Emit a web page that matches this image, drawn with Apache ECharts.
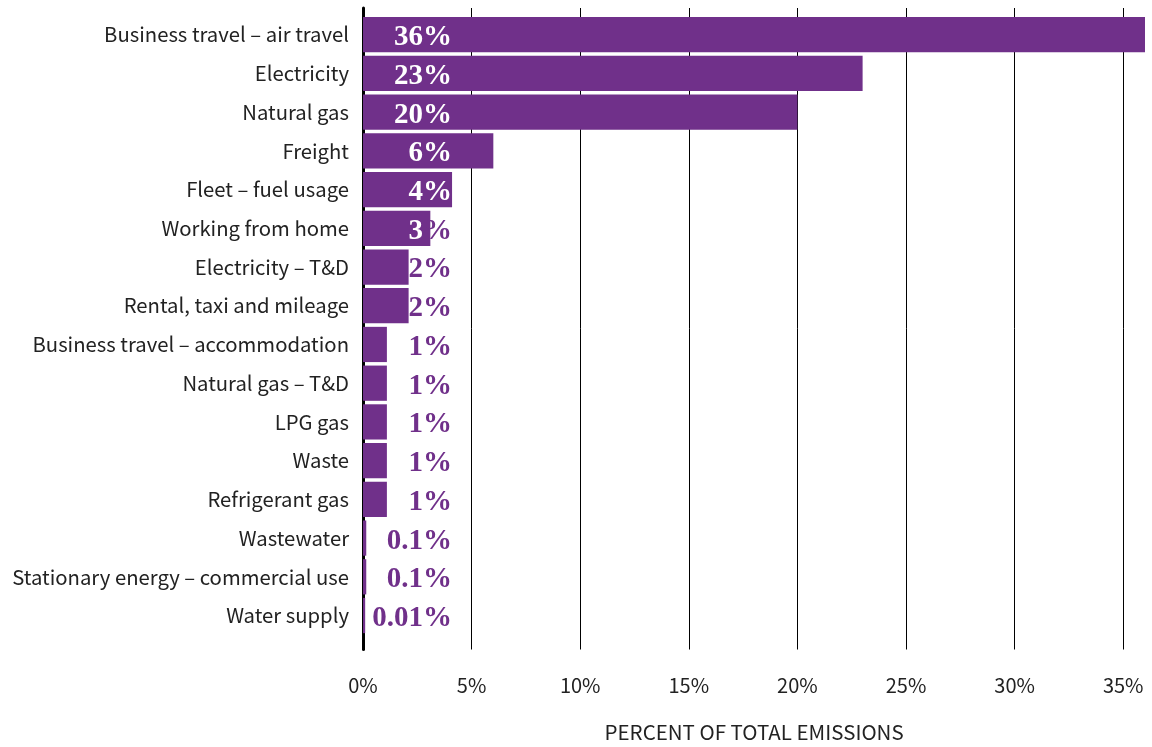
<!DOCTYPE html>
<html>
<head>
<meta charset="utf-8">
<script src="https://cdn.jsdelivr.net/npm/echarts@6/dist/echarts.min.js"></script>
<style>html,body{margin:0;padding:0;background:#fff}#c{width:1152px;height:747px}</style>
</head>
<body>
<div id="c"></div>
<script>
var categories = ["Business travel – air travel","Electricity","Natural gas","Freight","Fleet – fuel usage","Working from home","Electricity – T&D","Rental, taxi and mileage","Business travel – accommodation","Natural gas – T&D","LPG gas","Waste","Refrigerant gas","Wastewater","Stationary energy – commercial use","Water supply"];
var values = [36, 23, 20, 6, 4.1, 3.1, 2.1, 2.1, 1.1, 1.1, 1.1, 1.1, 1.1, 0.15, 0.15, 0.1];
var valueLabels = ["36%","23%","20%","6%","4%","3%","2%","2%","1%","1%","1%","1%","1%","0.1%","0.1%","0.01%"];
var xTicks = [0,5,10,15,20,25,30,35];

var PURPLE = '#70308a';
var FONT = '"Noto Sans CJK SC", "Noto Sans", sans-serif';
var SERIF = '"Liberation Serif", serif';
var chart = echarts.init(document.getElementById('c'));
chart.setOption({
  animation: false,
  backgroundColor: '#fff',
  grid: [
    {left: 363, right: 7, top: 15.3, bottom: 112.1, containLabel: false},
    {left: 363, width: 760.2, top: 8, bottom: 87, containLabel: false}
  ],
  xAxis: [
    {gridIndex: 0, type: 'value', min: 0, max: 36, show: false},
    {gridIndex: 1, type: 'value', min: xTicks[0], max: xTicks[xTicks.length-1], interval: 5,
     axisLine: {show: false}, axisTick: {show: false},
     splitLine: {show: true, lineStyle: {color: '#000', width: 1}},
     axisLabel: {margin: 26, color: '#222', fontFamily: FONT, fontSize: 20, formatter: '{value}%'},
     name: 'PERCENT OF TOTAL EMISSIONS', nameLocation: 'middle', nameGap: 72,
     nameTextStyle: {color: '#222', fontFamily: FONT, fontSize: 20.5, padding: [0, 0, 0, 22]}}
  ],
  yAxis: [
    {gridIndex: 0, type: 'category', data: categories, inverse: true,
     axisLine: {show: false}, axisTick: {show: false}, splitLine: {show: false},
     axisLabel: {margin: 14, color: '#222', fontFamily: FONT, fontSize: 20.3}},
    {gridIndex: 1, type: 'value', min: 0, max: 1, axisLabel: {show: false}, axisTick: {show: false},
     splitLine: {show: false}, axisLine: {show: true, lineStyle: {color: '#000', width: 3}}}
  ],
  series: [{
    type: 'bar', xAxisIndex: 0, yAxisIndex: 0,
    data: values, barCategoryGap: '9%',
    itemStyle: {color: PURPLE},
    label: {
      show: true, position: [89, '50%'], align: 'right', verticalAlign: 'middle', offset: [0, 3],
      fontFamily: SERIF, fontWeight: 'bold', fontSize: 29,
      formatter: function (p) {
        var t = valueLabels[p.dataIndex];
        if (p.value >= 4) return '{w|' + t + '}';
        if (p.value >= 3) return '{w|' + t.slice(0, t.length - 1) + '}{p|%}';
        return '{p|' + t + '}';
      },
      rich: {
        w: {color: '#fff', fontFamily: SERIF, fontWeight: 'bold', fontSize: 29},
        p: {color: PURPLE, fontFamily: SERIF, fontWeight: 'bold', fontSize: 29}
      }
    }
  }]
});
</script>
</body>
</html>
